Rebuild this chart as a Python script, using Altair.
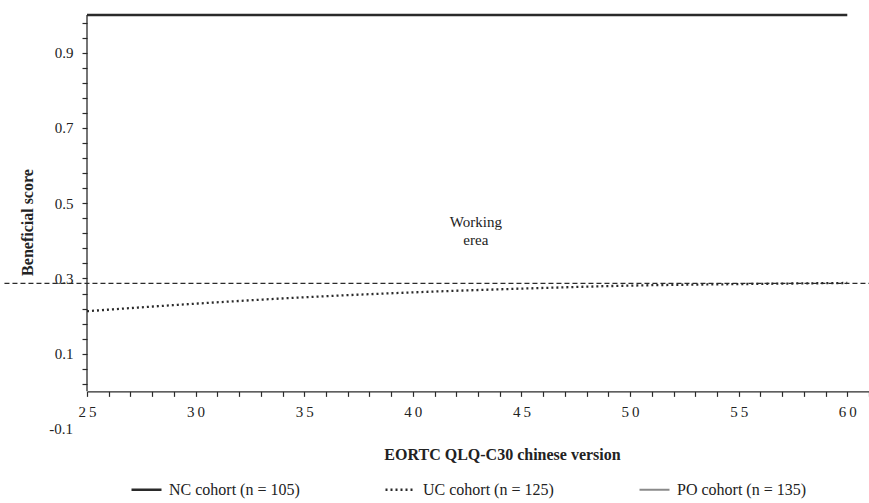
import altair as alt
import pandas as pd

# ---- data ----
cohorts = ["NC cohort (n = 105)", "UC cohort (n = 125)", "PO cohort (n = 135)"]
nc_x = [25, 60]
nc_y = [1.0, 1.0]
uc_x = [25, 30, 35, 40, 45, 50, 55, 60]
uc_y = [0.213, 0.233, 0.250, 0.263, 0.273, 0.281, 0.285, 0.288]
cutoff_x = [21.2, 61.0]
cutoff_y = [0.287, 0.287]
x_domain = [25, 61]
y_domain = [-0.1, 1.0]
x_ticks = [25, 26, 27, 28, 29, 30, 31, 32, 33, 34, 35, 36, 37, 38, 39, 40, 41, 42,
           43, 44, 45, 46, 47, 48, 49, 50, 51, 52, 53, 54, 55, 56, 57, 58, 59, 60, 61]
y_ticks = [0.02, 0.06, 0.10, 0.14, 0.18, 0.22, 0.26, 0.30, 0.34, 0.38, 0.42, 0.46,
           0.50, 0.54, 0.58, 0.62, 0.66, 0.70, 0.74, 0.78, 0.82, 0.86, 0.90, 0.94, 0.98]
extra_label_x = [25]
extra_label_y = [-0.1]
extra_label_text = ["-0.1"]
note_x = [42.9]
note_y = [0.45]
note_text = ["Working\nerea"]
x_title = "EORTC QLQ-C30 chinese version"
y_title = "Beneficial score"

W, H = 782, 414
SERIF = "Liberation Serif"
INK = "#2a2a2a"

lines_df = pd.DataFrame(
    [{"cohort": cohorts[0], "x": a, "y": b} for a, b in zip(nc_x, nc_y)]
    + [{"cohort": cohorts[1], "x": a, "y": b} for a, b in zip(uc_x, uc_y)]
)
cut_df = pd.DataFrame({"x": cutoff_x, "y": cutoff_y})
lab_df = pd.DataFrame({"x": extra_label_x, "y": extra_label_y, "t": extra_label_text})
note_df = pd.DataFrame({"x": note_x, "y": note_y, "t": note_text})
yaxis_df = pd.DataFrame({"x": [x_domain[0]], "y": [0.0], "y2": [1.0]})

x_offset = -H * (0 - y_domain[0]) / (y_domain[1] - y_domain[0])

xscale = alt.Scale(domain=x_domain, nice=False, zero=False)
yscale = alt.Scale(domain=y_domain, nice=False, zero=False)

lines = alt.Chart(lines_df).mark_line(interpolate="monotone", strokeCap="butt").encode(
    x=alt.X("x:Q", scale=xscale, title=x_title,
            axis=alt.Axis(values=x_ticks, tickCount=100, offset=x_offset, grid=False,
                          labelOverlap=False, labelFlush=False,
                          domainColor=INK, domainWidth=1.3, tickColor=INK, tickSize=5,
                          tickWidth=1.2,
                          labelExpr="datum.value % 5 == 0 ? substring(''+datum.value,0,1) + '\u2009' + substring(''+datum.value,1) : ''",
                          labelFont=SERIF, labelFontSize=15, labelColor="#222", labelPadding=8,
                          titleFont=SERIF, titleFontSize=16, titleFontWeight="bold", titleColor="#222",
                          titleX=415, titleY=63, titleBaseline="middle")),
    y=alt.Y("y:Q", scale=yscale, title=y_title,
            axis=alt.Axis(values=y_ticks, tickCount=100, domain=False, grid=False,
                          labelOverlap=False, labelFlush=False,
                          tickColor=INK, tickSize=5, tickWidth=1.2,
                          labelExpr="indexof([10,30,50,70,90], round(datum.value*100)) >= 0 ? format(datum.value, '.1f') : ''",
                          labelFont=SERIF, labelFontSize=15, labelColor="#222", labelPadding=9,
                          titleFont=SERIF, titleFontSize=16, titleFontWeight="bold", titleColor="#222",
                          titlePadding=19)),
    color=alt.Color("cohort:N", title=None,
                    scale=alt.Scale(domain=cohorts, range=[INK, INK, "#8a8a8a"])),
    strokeDash=alt.StrokeDash("cohort:N", title=None,
                              scale=alt.Scale(domain=cohorts, range=[[1, 0], [2, 3], [1, 0]])),
    strokeWidth=alt.StrokeWidth("cohort:N", title=None,
                                scale=alt.Scale(domain=cohorts, range=[2.4, 2.2, 1.0])),
)

cut = alt.Chart(cut_df).mark_line(strokeDash=[5, 3], strokeWidth=1.1, color=INK).encode(
    x=alt.X("x:Q", scale=xscale), y=alt.Y("y:Q", scale=yscale)
)

yline = alt.Chart(yaxis_df).mark_rule(color=INK, strokeWidth=1.3).encode(
    x=alt.X("x:Q", scale=xscale), y=alt.Y("y:Q", scale=yscale), y2="y2:Q"
)

lab = alt.Chart(lab_df).mark_text(align="right", baseline="middle", dx=-14,
                                  font=SERIF, fontSize=15, color="#222").encode(
    x=alt.X("x:Q", scale=xscale), y=alt.Y("y:Q", scale=yscale), text="t:N"
)

note = alt.Chart(note_df).mark_text(align="center", baseline="middle", lineBreak="\n",
                                    lineHeight=18, font=SERIF, fontSize=15, color="#222").encode(
    x=alt.X("x:Q", scale=xscale), y=alt.Y("y:Q", scale=yscale), text="t:N"
)

chart = alt.layer(lines, cut, yline, lab, note).properties(
    width=W, height=H,
    autosize=alt.AutoSizeParams(type="none"),
    padding={"left": 87, "top": 15, "right": 0, "bottom": 74},
    background="white",
).configure_view(stroke=None).configure_legend(
    orient="none", legendX=43, legendY=458, direction="horizontal",
    symbolType="stroke", symbolSize=900, labelFont="Liberation Sans Narrow",
    labelFontSize=16, labelColor="#222", columnPadding=80, gridAlign="all",
    labelOffset=6,
)

chart.save("out.html", embed_options={"renderer": "svg", "actions": False})
